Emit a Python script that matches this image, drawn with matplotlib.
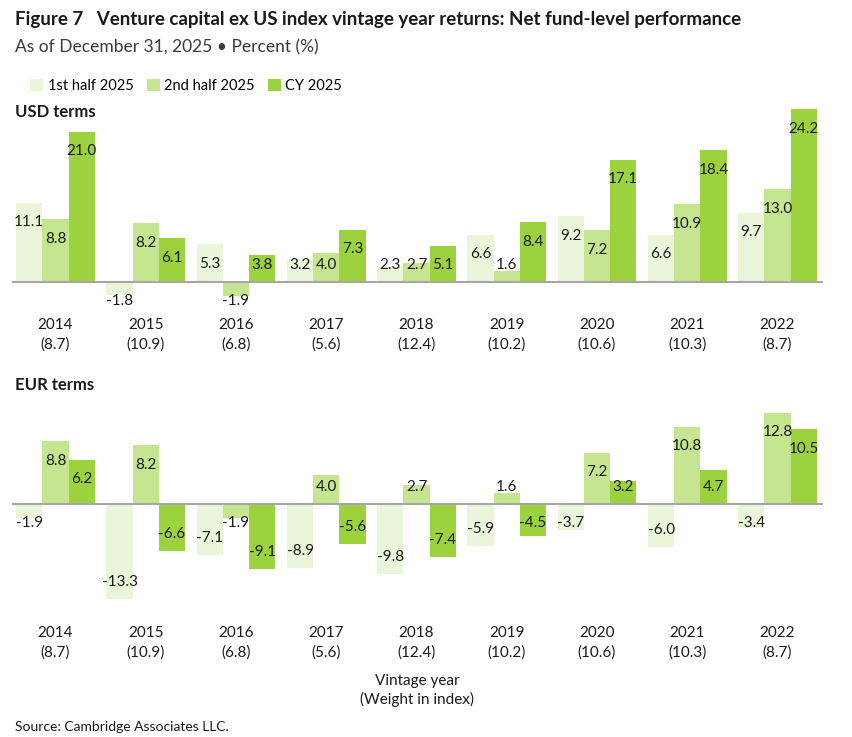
import matplotlib
matplotlib.use("Agg")
import matplotlib.pyplot as plt
import numpy as np

plt.rcParams['font.family'] = ['Lato', 'DejaVu Sans']

# data
years = ['2014', '2015', '2016', '2017', '2018', '2019', '2020', '2021', '2022']
weights = ['8.7', '10.9', '6.8', '5.6', '12.4', '10.2', '10.6', '10.3', '8.7']
series = ['1st half 2025', '2nd half 2025', 'CY 2025']
colors = ['#eaf5da', '#c6e590', '#9dd23f']

usd_h1 = [11.1, -1.8, 5.3, 3.2, 2.3, 6.6, 9.2, 6.6, 9.7]
usd_h2 = [8.8, 8.2, -1.9, 4.0, 2.7, 1.6, 7.2, 10.9, 13.0]
usd_cy = [21.0, 6.1, 3.8, 7.3, 5.1, 8.4, 17.1, 18.4, 24.2]

eur_h1 = [-1.9, -13.3, -7.1, -8.9, -9.8, -5.9, -3.7, -6.0, -3.4]
eur_h2 = [8.8, 8.2, -1.9, 4.0, 2.7, 1.6, 7.2, 10.8, 12.8]
eur_cy = [6.2, -6.6, -9.1, -5.6, -7.4, -4.5, 3.2, 4.7, 10.5]

W, H = 852, 737
fig = plt.figure(figsize=(W / 100, H / 100), dpi=100)

def px_axes(top, bottom, left=12, right=823):
    return fig.add_axes([left / W, 1 - bottom / H, (right - left) / W, (bottom - top) / H])

ax_usd = px_axes(105, 303)
ax_eur = px_axes(405, 611)

x = np.arange(len(years))
bw = 0.29
tick_labels = [f"{y}\n({w})" for y, w in zip(years, weights)]

def draw(ax, data, ylim):
    handles = []
    for j, vals in enumerate(data):
        xs = x + (j - 1) * bw
        b = ax.bar(xs, vals, width=bw, color=colors[j], label=series[j], zorder=2)
        handles.append(b)
        for xi, v in zip(xs, vals):
            if v >= 0:
                ly = max(v - 2.75, 2.4)
            else:
                ly = min(v + 2.35, -2.6)
            ax.text(xi, ly, f"{v:.1f}", ha='center', va='center', fontsize=11, color='#1a1a1a', zorder=3)
    ax.axhline(0, color='#a6a6a6', lw=1.5, zorder=4)
    ax.set_xlim(-0.482, 8.504)
    ax.set_ylim(*ylim)
    ax.set_yticks([])
    ax.set_xticks(x, labels=tick_labels)
    ax.tick_params(axis='x', length=0, pad=11, labelsize=11, labelcolor='#1a1a1a')
    for lbl in ax.get_xticklabels():
        lbl.set_linespacing(1.45)
    for s in ax.spines.values():
        s.set_visible(False)
    return handles

handles = draw(ax_usd, [usd_h1, usd_h2, usd_cy], (-2.94, 24.75))
draw(ax_eur, [eur_h1, eur_h2, eur_cy], (-14.97, 13.85))

ax_eur.set_xlabel("Vintage year\n(Weight in index)", fontsize=11, color='#1a1a1a', labelpad=10, linespacing=1.35)

fig.text(15 / W, 1 - 20 / H, "Figure 7   Venture capital ex US index vintage year returns: Net fund-level performance",
         fontsize=13.5, fontweight='bold', va='center', color='#1a1a1a')
fig.text(15 / W, 1 - 47 / H, "As of December 31, 2025 \u2022 Percent (%)",
         fontsize=12.5, fontweight='normal', va='center', color='#3a3a3a')
fig.text(15 / W, 1 - 112 / H, "USD terms", fontsize=12, fontweight='bold', va='center', color='#1a1a1a')
fig.text(15 / W, 1 - 385 / H, "EUR terms", fontsize=12, fontweight='bold', va='center', color='#1a1a1a')
fig.text(15 / W, 1 - 727 / H, "Source: Cambridge Associates LLC.", fontsize=10, va='center', color='#1a1a1a')

fig.legend(handles=handles, labels=series, loc='center left', bbox_to_anchor=(30 / W, 1 - 86 / H),
           ncol=3, frameon=False, fontsize=10.5, handlelength=0.9, handleheight=0.9,
           handletextpad=0.3, columnspacing=0.9, borderaxespad=0, borderpad=0)

fig.savefig("out.png", dpi=100)
